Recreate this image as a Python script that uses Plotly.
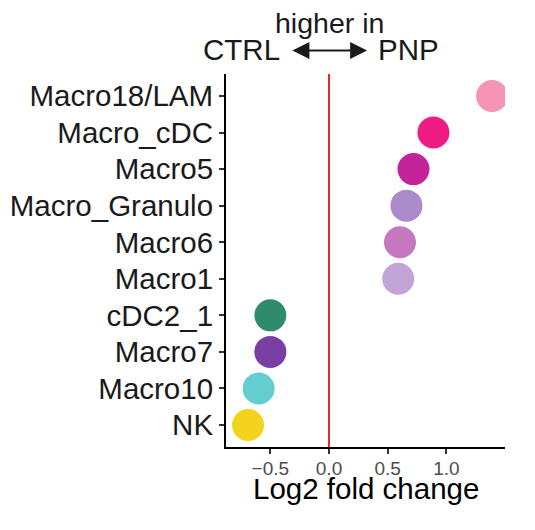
import plotly.graph_objects as go

categories = ["NK", "Macro10", "Macro7", "cDC2_1", "Macro1", "Macro6",
              "Macro_Granulo", "Macro5", "Macro_cDC", "Macro18/LAM"]
log2fc = [-0.69, -0.60, -0.50, -0.50, 0.59, 0.605, 0.66, 0.72, 0.89, 1.39]
colors = ["#F3D31C", "#63CDCF", "#7A3FA4", "#2E8C6C", "#C3A4D7", "#C577BF",
          "#AB8BCB", "#C4239A", "#EE1B83", "#F595B3"]
x_ticks = [-0.5, 0.0, 0.5, 1.0]

FONT = "Arial, Liberation Sans, Helvetica, sans-serif"
BIG = 29.5

fig = go.Figure()
fig.add_trace(go.Scatter(
    x=log2fc, y=categories, mode="markers",
    marker=dict(size=32, color=colors, line=dict(width=0), opacity=1),
    hoverinfo="skip", showlegend=False,
))

fig.add_shape(type="line", xref="x", yref="paper", x0=0, x1=0, y0=0, y1=1,
              line=dict(color="#E8262D", width=2), layer="below")

fig.update_layout(
    width=519, height=514,
    margin=dict(l=218, r=22, t=66, b=75, autoexpand=False),
    paper_bgcolor="white", plot_bgcolor="white",
    font=dict(family=FONT, color="black"),
    xaxis=dict(
        range=[-0.878, 1.50], tickvals=x_ticks, tickformat=".1f",
        showgrid=False, zeroline=False, automargin=False,
        showline=True, linecolor="black", linewidth=2,
        ticks="outside", ticklen=5, tickwidth=1.5, tickcolor="#333333",
        tickfont=dict(size=19, color="#4D4D4D", family=FONT),
        ticklabelstandoff=-2,
    ),
    yaxis=dict(
        type="category", categoryorder="array", categoryarray=categories,
        range=[-0.6, 9.6], automargin=False,
        showgrid=False, zeroline=False,
        showline=True, linecolor="black", linewidth=2,
        ticks="outside", ticklen=5, tickwidth=1.5, tickcolor="#333333",
        tickfont=dict(size=BIG, color="#1A1A1A", family=FONT),
        ticklabelstandoff=0,
    ),
)

# x-axis title
fig.add_annotation(x=0.5, y=-0.110, xref="paper", yref="paper", text="Log2 fold change",
                   showarrow=False, xanchor="center", yanchor="middle",
                   font=dict(size=BIG, color="black", family=FONT))

# header: "higher in" and CTRL <-> PNP
fig.add_annotation(x=0, y=1.137, xref="x", yref="paper", text="higher in",
                   showarrow=False, xanchor="center", yanchor="middle",
                   font=dict(size=28.5, color="#1A1A1A", family=FONT))
fig.add_annotation(x=-0.40, y=1.065, xref="x", yref="paper", text="CTRL",
                   showarrow=False, xanchor="right", yanchor="middle",
                   font=dict(size=BIG, color="#1A1A1A", family=FONT))
fig.add_annotation(x=0.40, y=1.065, xref="x", yref="paper", text="PNP",
                   showarrow=False, xanchor="left", yanchor="middle",
                   font=dict(size=BIG, color="#1A1A1A", family=FONT))
fig.add_annotation(x=0.325, y=1.063, xref="x", yref="paper",
                   ax=-0.325, ay=0, axref="x", ayref="pixel",
                   text="", showarrow=True, arrowhead=2, arrowside="end+start",
                   arrowsize=1.7, arrowwidth=2, arrowcolor="#1A1A1A",
                   standoff=0, startstandoff=0)

fig.write_html("out.html")
